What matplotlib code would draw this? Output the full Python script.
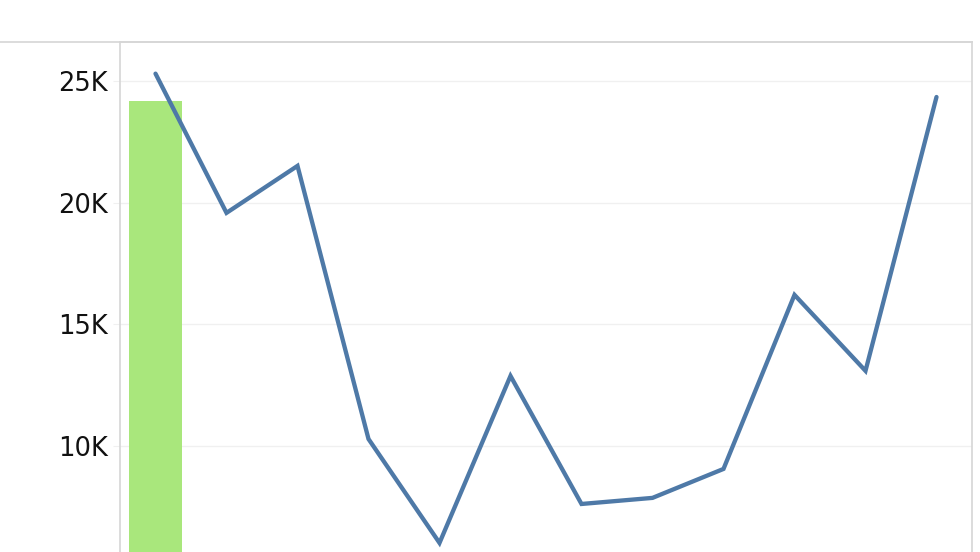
import matplotlib
matplotlib.use("Agg")
import matplotlib.pyplot as plt
from matplotlib.lines import Line2D
from matplotlib.ticker import FuncFormatter

plt.rcParams['font.family'] = ['DejaVu Sans']

categories = [str(i) for i in range(1, 13)]
line_values = [25300, 19580, 21510, 10290, 6020, 12880, 7620, 7870, 9060, 16210, 13090, 24340]
bar_values = [24180] + [0] * 11
y_ticks = [10000, 15000, 20000, 25000]

fig = plt.figure(figsize=(9.8, 5.52), dpi=100)
W, H = 980, 552
left, right, top = 120 / W, 972 / W, 1 - 42 / H
ymin, ymax = 0, 26600
px_per_unit = 121.7 / 5000
bottom_px = 42 + (ymax - ymin) * px_per_unit
bottom = 1 - bottom_px / H
ax = fig.add_axes([left, bottom, right - left, top - bottom])

x = list(range(len(categories)))
ax.bar(x[:1], bar_values[:1], width=0.75, color='#a9e77c', zorder=2)
ax.plot(x, line_values, color='#4e79a7', linewidth=3.1, solid_capstyle='round',
        solid_joinstyle='miter', zorder=3)

ax.set_xlim(-0.5, len(categories) - 0.5)
ax.set_ylim(ymin, ymax)
ax.set_yticks(y_ticks)
ax.yaxis.set_major_formatter(FuncFormatter(lambda v, p: f"{int(v/1000)}K"))
ax.set_xticks([])
ax.grid(axis='y', color='#f0f0f0', linewidth=1.0, zorder=0)
ax.tick_params(axis='y', length=5, color='#f0f0f0', pad=4, labelsize=18.5, labelcolor='#111111')

for s in ['left', 'right', 'top']:
    ax.spines[s].set_color('#d6d6d6')
    ax.spines[s].set_linewidth(1.2)
ax.spines['bottom'].set_visible(False)

fig.add_artist(Line2D([0, right], [top, top], transform=fig.transFigure,
                      color='#d6d6d6', linewidth=1.2))

fig.savefig('out.png', dpi=100)
